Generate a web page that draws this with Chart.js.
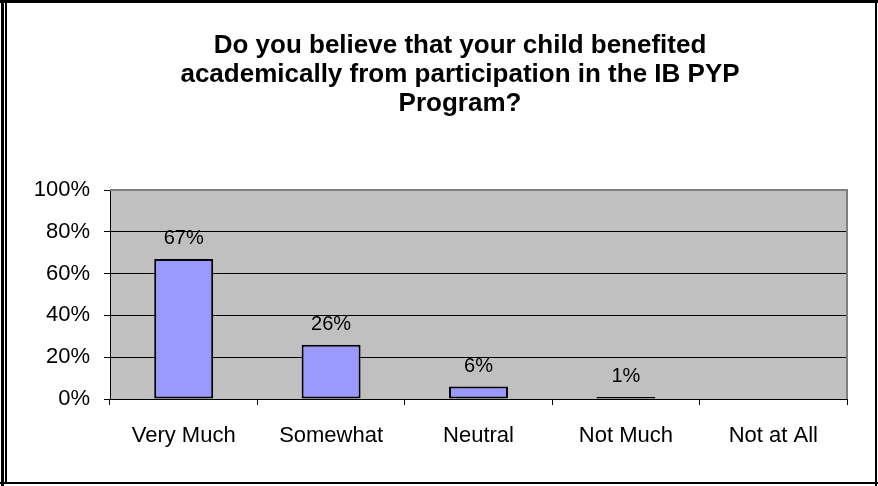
<!DOCTYPE html>
<html>
<head>
<meta charset="utf-8">
<script src="https://cdn.jsdelivr.net/npm/chart.js@4"></script>
<style>
    html, body { margin: 0; padding: 0; background: #fff; }
    #wrap { width: 878px; height: 486px; }
</style>
</head>
<body>
<div id="wrap"><canvas id="chart" width="878" height="486"></canvas></div>
<script>
// chart data
const categories = ['Very Much', 'Somewhat', 'Neutral', 'Not Much', 'Not at All'];
const percentValues = [67, 26, 6, 1, 0];
const yTicks = [0, 20, 40, 60, 80, 100];
const titleLines = [
    'Do you believe that your child benefited',
    'academically from participation in the IB PYP',
    'Program?'
];

const FONT = '"Liberation Sans", Arial, sans-serif';

// outer frame + title
const framePlugin = {
    id: 'frame',
    beforeDraw(chart) {
        const ctx = chart.ctx;
        const a = chart.chartArea;
        ctx.save();
        ctx.fillStyle = '#fff';
        ctx.fillRect(0, 0, chart.width, chart.height);
        // plot background
        ctx.fillStyle = '#c0c0c0';
        ctx.fillRect(a.left, a.top, a.right - a.left, a.bottom - a.top);
        ctx.restore();
    },
    afterDraw(chart) {
        const ctx = chart.ctx;
        const a = chart.chartArea;
        ctx.save();
        // gray plot border top/right
        ctx.strokeStyle = '#808080';
        ctx.lineWidth = 2;
        ctx.beginPath();
        ctx.moveTo(a.left, a.top);
        ctx.lineTo(a.right, a.top);
        ctx.lineTo(a.right, a.bottom);
        ctx.stroke();
        // outer frame
        ctx.fillStyle = '#000';
        ctx.fillRect(0, 0, 878, 3);
        ctx.fillRect(1, 0, 3, 486);
        ctx.fillRect(5, 3, 2, 480);
        ctx.fillRect(875, 0, 2, 486);
        ctx.fillRect(0, 482, 878, 2);
        // title
        ctx.font = 'bold 26px ' + FONT;
        ctx.textAlign = 'center';
        ctx.textBaseline = 'middle';
        titleLines.forEach((line, i) => {
            ctx.fillText(line, 460, 46 + i * 29);
        });
        ctx.restore();
    }
};

// value labels above bars
const labelPlugin = {
    id: 'barLabels',
    afterDatasetsDraw(chart) {
        const ctx = chart.ctx;
        const meta = chart.getDatasetMeta(0);
        ctx.save();
        ctx.font = '20px ' + FONT;
        ctx.fillStyle = '#000';
        ctx.textAlign = 'center';
        ctx.textBaseline = 'middle';
        meta.data.forEach((bar, i) => {
            const v = percentValues[i];
            if (!v) return;
            ctx.fillText(v + '%', bar.x, bar.y - 20);
        });
        ctx.restore();
    }
};

new Chart(document.getElementById('chart'), {
    type: 'bar',
    data: {
        labels: categories,
        datasets: [{
            data: percentValues,
            backgroundColor: '#9999ff',
            borderColor: '#000',
            borderWidth: 2,
            borderSkipped: false,
            categoryPercentage: 1,
            barPercentage: 0.4
        }]
    },
    options: {
        responsive: false,
        animation: false,
        layout: { padding: { left: 0, top: 190, right: 31, bottom: 0 } },
        plugins: {
            legend: { display: false },
            title: { display: false },
            tooltip: { enabled: false }
        },
        scales: {
            x: {
                afterFit: s => { s.height = 87; },
                grid: { offset: true, drawOnChartArea: false, color: '#000', tickLength: 6 },
                border: { color: '#000', width: 1 },
                ticks: { color: '#000', font: { family: FONT, size: 22 }, padding: 18, maxRotation: 0 }
            },
            y: {
                min: 0,
                max: 100,
                afterFit: s => { s.width = 110; },
                afterBuildTicks: s => { s.ticks = yTicks.map(v => ({ value: v })); },
                grid: {
                    color: c => (c.tick && c.tick.value === 100 ? '#808080' : '#000'),
                    tickColor: '#000',
                    tickLength: 6
                },
                border: { color: '#000', width: 1 },
                ticks: {
                    color: '#000',
                    font: { family: FONT, size: 22 },
                    padding: 14,
                    callback: v => v + '%'
                }
            }
        }
    },
    plugins: [framePlugin, labelPlugin]
});
</script>
</body>
</html>
